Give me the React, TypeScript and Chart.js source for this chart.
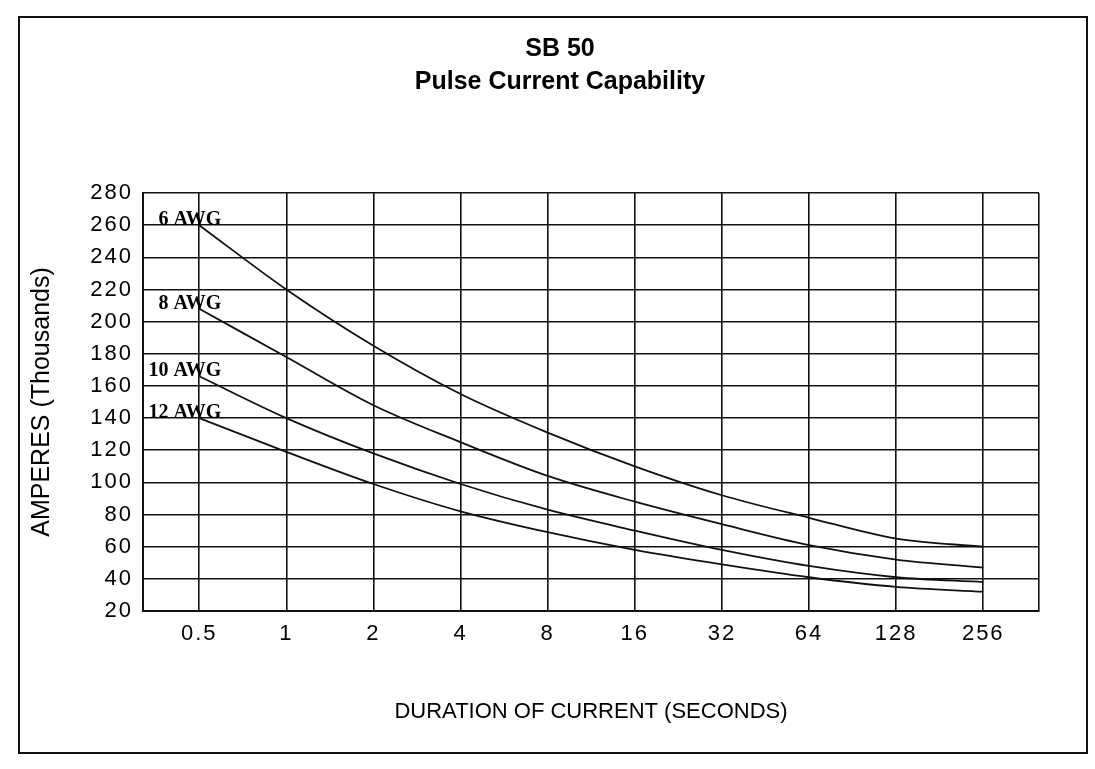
import React, { useEffect, useRef } from 'react';
import { Chart, registerables } from 'chart.js';

Chart.register(...registerables);

// ---- data ----
const durationLabels = ['0.5', '1', '2', '4', '8', '16', '32', '64', '128', '256'];
const awg6 = [260, 220, 185, 155, 131, 110, 92, 78, 65, 60];
const awg8 = [208, 178, 148, 125, 104, 88, 74, 61, 52, 47];
const awg10 = [166, 140, 118, 99, 83, 70, 58, 48, 41, 38];
const awg12 = [140, 119, 99, 82, 69, 58, 49, 41, 35, 32];
const wireLabels = ['6 AWG', '8 AWG', '10 AWG', '12 AWG'];
const seriesList = [awg6, awg8, awg10, awg12];
const yMin = 20;
const yMax = 280;
const yStep = 20;
const titleLines = ['SB 50', 'Pulse Current Capability'];
const xTitle = 'DURATION OF CURRENT (SECONDS)';
const yTitle = 'AMPERES (Thousands)';

const SANS = '"Liberation Sans", Arial, Helvetica, sans-serif';
const SERIF = '"Liberation Serif", "Times New Roman", serif';
const INK = '#111';

const X_MIN = -0.645;
const X_MAX = 9.64;

const awgLabelPlugin = {
  id: 'awgLabels',
  afterDatasetsDraw(chart: any) {
    const ctx = chart.ctx;
    ctx.save();
    ctx.font = `bold 20px ${SERIF}`;
    ctx.fillStyle = '#000';
    ctx.textAlign = 'right';
    ctx.textBaseline = 'alphabetic';
    chart.data.datasets.forEach((_ds: any, i: number) => {
      const pt = chart.getDatasetMeta(i).data[0];
      if (pt) ctx.fillText(wireLabels[i], pt.x + 22, pt.y);
    });
    ctx.restore();
  },
};

const tickSpacingPlugin = {
  id: 'tickSpacing',
  afterUpdate(chart: any) {
    ['x', 'y'].forEach((id) => {
      const s = chart.scales[id];
      if (s && !s.__spaced) {
        const orig = s.drawLabels.bind(s);
        s.drawLabels = (area: any) => {
          const ctx = chart.ctx;
          ctx.save();
          ctx.letterSpacing = '2px';
          orig(area);
          ctx.restore();
        };
        s.__spaced = true;
      }
    });
  },
};

export default function App() {
  const canvasRef = useRef<HTMLCanvasElement | null>(null);

  useEffect(() => {
    if (!canvasRef.current) return;
    const chart = new Chart(canvasRef.current, {
      type: 'line',
      data: {
        datasets: seriesList.map((s, i) => ({
          label: wireLabels[i],
          data: s.map((v, j) => ({ x: j, y: v })),
          borderColor: INK,
          borderWidth: 1.8,
          pointRadius: 0,
          fill: false,
          cubicInterpolationMode: 'monotone' as const,
        })),
      },
      options: {
        responsive: true,
        maintainAspectRatio: false,
        animation: false,
        layout: { padding: { left: 81, right: 56, top: 0, bottom: 44 } },
        plugins: {
          legend: { display: false },
          tooltip: { enabled: false },
          title: {
            display: true,
            text: titleLines,
            color: '#000',
            font: { family: SANS, size: 25, weight: 'bold', lineHeight: 1.3 },
            padding: { top: 33, bottom: 95 },
          },
        },
        scales: {
          x: {
            type: 'linear',
            min: X_MIN,
            max: X_MAX,
            afterBuildTicks: (scale: any) => {
              scale.ticks = [X_MIN, ...durationLabels.map((_, i) => i), X_MAX].map((v) => ({ value: v }));
            },
            afterFit: (scale: any) => {
              scale.height = 114;
            },
            ticks: {
              autoSkip: false,
              maxRotation: 0,
              padding: 10,
              color: '#000',
              font: { family: SANS, size: 22 },
              callback: (value: any) => {
                const i = Number(value);
                return Number.isInteger(i) && i >= 0 && i < durationLabels.length ? durationLabels[i] : '';
              },
            },
            grid: { color: INK, lineWidth: 1.6, drawTicks: false },
            border: { display: true, color: INK, width: 2 },
            title: {
              display: true,
              text: xTitle,
              color: '#000',
              font: { family: SANS, size: 22, lineHeight: 1.2 },
              padding: { top: 0, bottom: 0 },
            },
          },
          y: {
            type: 'linear',
            min: yMin,
            max: yMax,
            afterFit: (scale: any) => {
              scale.width = 62;
            },
            ticks: {
              stepSize: yStep,
              padding: 10,
              color: '#000',
              font: { family: SANS, size: 22 },
            },
            grid: { color: INK, lineWidth: 1.6, drawTicks: false },
            border: { display: true, color: INK, width: 2 },
            title: {
              display: true,
              text: yTitle,
              color: '#000',
              font: { family: SANS, size: 25, lineHeight: 1.2 },
              padding: { top: -54, bottom: 0 },
            },
          },
        },
      },
      plugins: [awgLabelPlugin, tickSpacingPlugin],
    } as any);
    return () => chart.destroy();
  }, []);

  return (
    <div
      style={{
        position: 'fixed',
        left: 0,
        top: 0,
        width: 1095,
        height: 769,
        background: '#fff',
      }}
    >
      <canvas ref={canvasRef} />
      <div
        style={{
          position: 'absolute',
          left: 18,
          top: 16,
          width: 1066,
          height: 734,
          border: `2.5px solid ${INK}`,
          pointerEvents: 'none',
        }}
      />
    </div>
  );
}
